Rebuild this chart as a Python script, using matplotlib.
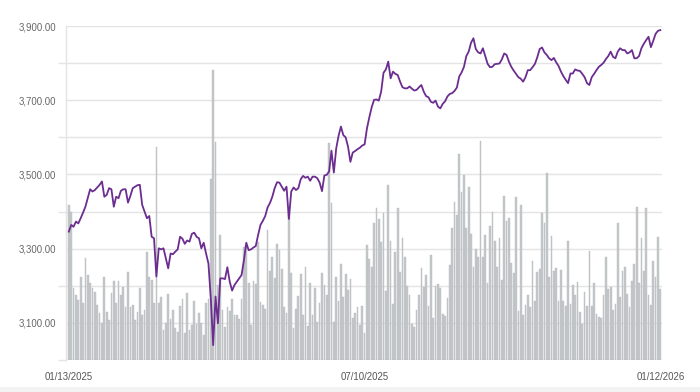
import matplotlib
matplotlib.use("Agg")
import matplotlib.pyplot as plt
from matplotlib.ticker import FixedLocator, FuncFormatter
from matplotlib.patches import Rectangle
import numpy as np

# ---- data ----
price = [
    3346, 3364, 3359, 3373, 3368, 3382, 3397, 3413, 3436, 3460,
    3454, 3458, 3465, 3472, 3481, 3440, 3445, 3463, 3460, 3413,
    3440, 3436, 3456, 3460, 3460, 3424, 3442, 3463, 3467, 3471,
    3472, 3418, 3400, 3382, 3388, 3332, 3328, 3225, 3301, 3298,
    3301, 3274, 3247, 3287, 3285, 3292, 3298, 3332, 3327, 3313,
    3322, 3319, 3340, 3343, 3332, 3328, 3301, 3316, 3287, 3260,
    3166, 3040, 3171, 3099, 3220, 3220, 3218, 3250, 3211, 3187,
    3202, 3211, 3220, 3229, 3269, 3316, 3296, 3298, 3303, 3307,
    3337, 3364, 3375, 3388, 3411, 3423, 3440, 3463, 3479, 3478,
    3467, 3456, 3467, 3380, 3454, 3465, 3458, 3463, 3487, 3496,
    3491, 3494, 3483, 3494, 3494, 3490, 3478, 3455, 3497, 3499,
    3508, 3564, 3505, 3570, 3604, 3629, 3606, 3600, 3575, 3534,
    3559, 3563, 3568, 3572, 3578, 3581, 3624, 3654, 3681, 3701,
    3702, 3699, 3723, 3774, 3783, 3804, 3759, 3777, 3771, 3768,
    3750, 3735, 3732, 3732, 3737, 3731, 3726, 3728, 3735, 3741,
    3723, 3711, 3708, 3696, 3693, 3699, 3683, 3678, 3690, 3697,
    3710, 3717, 3719, 3725, 3734, 3764, 3775, 3790, 3819, 3831,
    3855, 3867, 3838, 3829, 3826, 3840, 3819, 3798, 3789, 3790,
    3797, 3798, 3799, 3810, 3826, 3822, 3804, 3790, 3780, 3771,
    3762, 3758, 3750, 3762, 3781, 3781, 3789, 3798, 3816, 3838,
    3842, 3829, 3822, 3813, 3808, 3814, 3802, 3792, 3777, 3765,
    3755, 3746, 3772, 3772, 3783, 3780, 3779, 3771, 3762, 3746,
    3741, 3762, 3771, 3781, 3790, 3795, 3801, 3811, 3819, 3831,
    3817, 3813, 3831, 3840, 3835, 3835, 3826, 3829, 3835, 3813,
    3813, 3819, 3840, 3852, 3862, 3871, 3843, 3860, 3879, 3887,
    3889,
]

volume = [
    155, 148, 72, 65, 60, 83, 57, 102, 85, 77,
    72, 68, 55, 47, 37, 83, 48, 40, 67, 79,
    57, 79, 65, 73, 53, 88, 53, 55, 40, 48,
    72, 45, 50, 108, 83, 80, 57, 213, 57, 63,
    30, 37, 66, 41, 50, 32, 28, 54, 61, 27,
    67, 30, 35, 59, 36, 47, 37, 25, 57, 61,
    181, 290, 218, 75, 125, 50, 33, 53, 49, 61,
    45, 45, 41, 61, 113, 115, 77, 35, 79, 76,
    118, 58, 55, 51, 130, 89, 103, 82, 116, 110,
    91, 53, 47, 148, 87, 32, 51, 64, 86, 45,
    93, 34, 77, 45, 72, 38, 57, 87, 75, 65,
    217, 157, 38, 83, 59, 96, 63, 86, 70, 81,
    42, 47, 53, 35, 54, 27, 115, 101, 93, 137,
    152, 141, 118, 147, 69, 175, 119, 56, 108, 152,
    88, 122, 103, 74, 65, 36, 33, 50, 65, 92,
    73, 85, 54, 105, 42, 74, 76, 72, 46, 44,
    62, 95, 132, 158, 145, 206, 168, 185, 132, 173,
    126, 93, 111, 103, 219, 103, 125, 77, 134, 148,
    119, 93, 122, 80, 164, 139, 142, 97, 87, 163,
    49, 155, 45, 55, 65, 53, 99, 59, 88, 91,
    147, 137, 187, 83, 124, 89, 92, 59, 90, 59,
    54, 119, 56, 75, 65, 78, 48, 36, 68, 54,
    109, 54, 77, 46, 43, 42, 65, 103, 71, 73,
    50, 56, 137, 63, 89, 93, 66, 53, 79, 96,
    153, 77, 122, 89, 152, 65, 55, 99, 83, 123,
    71,
]

date_labels = ["01/13/2025", "07/10/2025", "01/12/2026"]
date_label_pos = [0, 125, 250]

y_labels = [3100, 3300, 3500, 3700, 3900]
y_minor = [3000, 3200, 3400, 3600, 3800]

# ---- figure ----
fig = plt.figure(figsize=(7.0, 3.92), dpi=100)
fig.patches.append(Rectangle((0, 0), 1, 5 / 392, transform=fig.transFigure,
                             facecolor="#f3f3f3", edgecolor="none", zorder=-5))

ax = fig.add_axes([66 / 700, 1 - 360 / 392, (662 - 66) / 700, (360 - 26) / 392])
x = np.arange(len(price))

ax.set_xlim(-1.2, len(price) - 0.3)
ax.set_ylim(3000, 3900)
ax.yaxis.set_major_locator(FixedLocator(y_labels))
ax.yaxis.set_minor_locator(FixedLocator(y_minor))
ax.yaxis.set_major_formatter(FuncFormatter(lambda v, p: f"{v:,.2f}"))
ax.grid(True, axis="y", which="both", color="#e4e4e4", linewidth=1.0)
ax.tick_params(axis="y", which="major", length=0, pad=7, labelsize=6.9,
               labelcolor="#666666")
ax.tick_params(axis="y", which="minor", length=6, width=1.0, color="#e4e4e4")
ax.set_xticks(date_label_pos)
ax.set_xticklabels(date_labels)
ax.tick_params(axis="x", length=0, pad=9, labelsize=6.9, labelcolor="#555555")
for s in ["top", "right", "bottom"]:
    ax.spines[s].set_visible(False)
ax.spines["left"].set_color("#e4e4e4")
ax.spines["left"].set_linewidth(1.0)
for lab in ax.get_xticklabels() + ax.get_yticklabels():
    lab.set_fontfamily("Liberation Sans")

# volume bars on a hidden twin axis
axv = ax.twinx()
axv.bar(x, volume, width=0.72, color="#c5c8cb", edgecolor="#b9bcbf",
        linewidth=0.3)
axv.set_ylim(0, 334)
axv.set_xlim(ax.get_xlim())
axv.axis("off")

# price line on top
axl = ax.twinx()
axl.plot(x, price, color="#6b2d8f", linewidth=1.3, solid_joinstyle="round")
axl.set_ylim(ax.get_ylim())
axl.set_xlim(ax.get_xlim())
axl.axis("off")

fig.savefig("out.png", dpi=100)
